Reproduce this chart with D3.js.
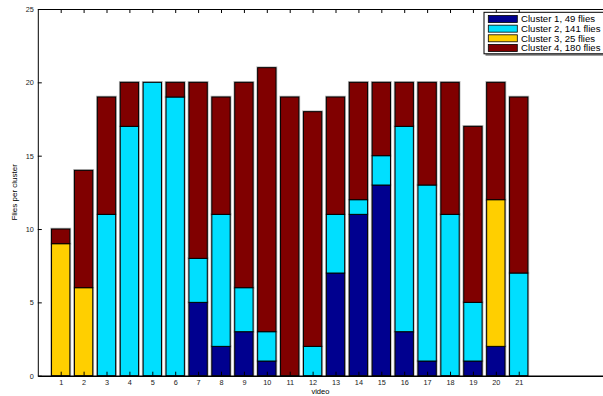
<!DOCTYPE html>
<html>
<head>
<meta charset="utf-8">
<script src="https://cdn.jsdelivr.net/npm/d3@7"></script>
<style>
  html, body { margin: 0; padding: 0; background: #fff; }
  svg { display: block; font-family: "Liberation Sans", Arial, Helvetica, sans-serif; }
</style>
</head>
<body>
<svg id="chart" width="603" height="396"></svg>
<script>
// Flies per cluster for each video (1..21), stacked bottom-to-top in cluster order
const videos   = d3.range(1, 22);
const cluster1 = [0, 0, 0, 0, 0, 0, 5, 2, 3, 1, 0, 0, 7, 11, 13, 3, 1, 0, 1, 2, 0];
const cluster2 = [0, 0, 11, 17, 20, 19, 3, 9, 3, 2, 0, 2, 4, 1, 2, 14, 12, 11, 4, 0, 7];
const cluster3 = [9, 6, 0, 0, 0, 0, 0, 0, 0, 0, 0, 0, 0, 0, 0, 0, 0, 0, 0, 10, 0];
const cluster4 = [1, 8, 8, 3, 0, 1, 12, 8, 14, 18, 19, 16, 8, 8, 5, 3, 7, 9, 12, 8, 12];
const seriesNames = ["Cluster 1, 49 flies", "Cluster 2, 141 flies", "Cluster 3, 25 flies", "Cluster 4, 180 flies"];
const seriesColors = ["#00008f", "#00dfff", "#ffcf00", "#800000"];
const yTicks = [0, 5, 10, 15, 20, 25];

const svg = d3.select("#chart");
const plotLeft = 37.8, plotRight = 603, plotTop = 9, plotBottom = 375.7;

const x = d3.scaleLinear().domain([0, 24.68]).range([plotLeft, plotRight]);
const y = d3.scaleLinear().domain([0, 25]).range([plotBottom, plotTop]);
const barW = 0.8 * (x(1) - x(0));

// Build stacked layers from the per-cluster arrays
const rows = videos.map((v, i) => ({
  video: v, c1: cluster1[i], c2: cluster2[i], c3: cluster3[i], c4: cluster4[i]
}));
const stack = d3.stack().keys(["c1", "c2", "c3", "c4"]);
const layers = stack(rows);

const g = svg.append("g");
layers.forEach((layer, k) => {
  const segs = layer.filter(d => d[1] - d[0] > 0);
  // soft grey halo around each segment
  g.selectAll(null).data(segs).enter().append("rect")
    .attr("x", d => x(d.data.video) - barW / 2)
    .attr("y", d => y(d[1]))
    .attr("width", barW)
    .attr("height", d => y(d[0]) - y(d[1]))
    .attr("fill", "none")
    .attr("stroke", "#b8b8b8")
    .attr("stroke-width", 2.6);
});
layers.forEach((layer, k) => {
  const segs = layer.filter(d => d[1] - d[0] > 0);
  g.selectAll(null).data(segs).enter().append("rect")
    .attr("x", d => x(d.data.video) - barW / 2)
    .attr("y", d => y(d[1]))
    .attr("width", barW)
    .attr("height", d => y(d[0]) - y(d[1]))
    .attr("fill", seriesColors[k])
    .attr("stroke", "#000")
    .attr("stroke-width", 1);
});

// Axes (MATLAB-style: ticks pointing inward, mirrored on top)
const tickFont = a => a.selectAll("text")
  .attr("font-size", 7.3).attr("fill", "#222")
  .attr("font-family", "'Liberation Sans', Arial, sans-serif");

svg.append("g")
  .attr("transform", `translate(${plotLeft},0)`)
  .call(d3.axisLeft(y).tickValues(yTicks).tickSizeInner(-4).tickSizeOuter(0).tickPadding(4))
  .call(tickFont)
  .call(a => a.selectAll("line, path").attr("stroke", "#000"));

svg.append("g")
  .attr("transform", `translate(0,${plotBottom})`)
  .call(d3.axisBottom(x).tickValues(videos).tickFormat(d3.format("d")).tickSizeInner(-4).tickSizeOuter(0).tickPadding(4))
  .call(tickFont)
  .call(a => a.selectAll("line, path").attr("stroke", "#000"))
  .call(a => a.select(".domain").attr("stroke-width", 1.4));

svg.append("g")
  .attr("transform", `translate(0,${plotTop})`)
  .call(d3.axisTop(x).tickValues(videos).tickFormat("").tickSizeInner(-4).tickSizeOuter(0))
  .call(a => a.selectAll("line, path").attr("stroke", "#000"));

// Axis titles
svg.append("text")
  .attr("x", (plotLeft + plotRight) / 2).attr("y", 394.3)
  .attr("text-anchor", "middle").attr("font-size", 7.5).attr("fill", "#000")
  .text("video");

svg.append("text")
  .attr("transform", `translate(17,${(plotTop + plotBottom) / 2}) rotate(-90)`)
  .attr("text-anchor", "middle").attr("font-size", 8).attr("fill", "#000")
  .text("Flies per cluster");

// Legend
const lg = svg.append("g").attr("transform", "translate(484,12.3)");
lg.append("rect").attr("x", 1.5).attr("y", 1.5).attr("width", 130).attr("height", 42)
  .attr("fill", "#888");
lg.append("rect").attr("x", 0).attr("y", 0).attr("width", 130).attr("height", 41.5)
  .attr("fill", "#fff").attr("stroke", "#000").attr("stroke-width", 1);
const items = lg.selectAll("g.item").data(seriesNames).enter().append("g")
  .attr("transform", (d, i) => `translate(0,${6.7 + i * 9.65})`);
items.append("rect")
  .attr("x", 4.3).attr("y", -3.5).attr("width", 29).attr("height", 7)
  .attr("fill", (d, i) => seriesColors[i]).attr("stroke", "#000").attr("stroke-width", 0.8);
items.append("text")
  .attr("x", 37).attr("y", 3.4)
  .attr("font-size", 9.6).attr("fill", "#000")
  .text(d => d);
</script>
</body>
</html>
